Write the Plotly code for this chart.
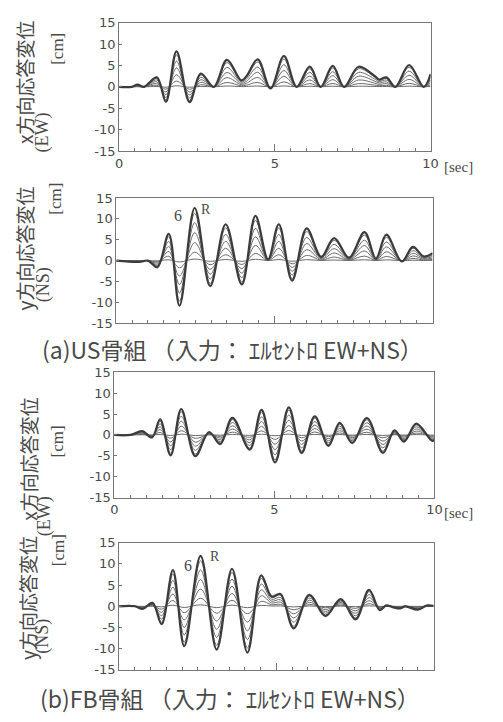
import plotly.graph_objects as go

# ---------------- data ----------------
# Roof (R) response displacement extrema [cm] vs time [sec]
t_us_x = [0, 0.4, 0.59, 0.8, 1.21, 1.5, 1.84, 2.26, 2.62, 3.04, 3.46, 3.92, 4.08, 4.45, 4.86,
          5.29, 5.7, 6.12, 6.47, 6.86, 7.22, 7.69, 8.19, 8.35, 8.58, 8.87, 9.31, 9.78, 10.0]
r_us_x = [0, 0, 0.5, 0, 2.2, -3.5, 8.3, -3.6, 3.1, 0, 6.3, 1.5, 2.4, 6.4, -0.4,
          7.2, 0, 4.7, 0, 4.9, 0, 4.7, 2.6, 1.7, 2.2, 0, 5.1, 0, 3.0]

t_us_y = [0, 0.73, 1.0, 1.3, 1.66, 2.0, 2.48, 2.97, 3.46, 3.97, 4.4, 4.8, 5.14, 5.56,
          6.02, 6.48, 6.89, 7.36, 7.85, 8.21, 8.54, 9.03, 9.38, 9.72, 10.0]
r_us_y = [0, -0.3, 0, -1.6, 6.4, -10.8, 12.6, -6.1, 8.7, -5.7, 10.7, 0.3, 8.7, -4.8,
          7.7, 0.9, 5.4, 0.7, 6.8, 0.5, 6.2, -0.2, 3.3, 1.0, 1.8]

t_fb_x = [0, 0.5, 0.87, 1.18, 1.43, 1.76, 2.09, 2.53, 2.96, 3.31, 3.69, 4.23, 4.6, 5.02,
          5.45, 5.85, 6.26, 6.69, 7.04, 7.43, 7.89, 8.39, 8.75, 9.05, 9.43, 9.92, 10.0]
r_fb_x = [0, 0, 0.9, -0.6, 3.7, -4.9, 6.2, -5.1, 0.7, -2.2, 4.1, -3.5, 6.0, -6.6,
          6.6, -4.3, 4.45, -2.6, 2.9, -1.95, 4.05, -4.3, 1.1, -1.6, 2.7, -1.4, -1.2]

t_fb_y = [0, 0.5, 0.75, 1.06, 1.35, 1.71, 2.07, 2.59, 3.1, 3.59, 4.08, 4.52, 4.85, 5.13,
          5.55, 6.05, 6.56, 7.05, 7.52, 7.95, 8.29, 8.5, 8.7, 8.95, 9.1, 9.5, 9.8, 10.0]
r_fb_y = [0, 0, -0.6, 0.8, -4.2, 8.5, -9.4, 11.9, -10.2, 8.85, -10.9, 7.3, 2.3, 2.9,
          -5.2, 2.7, -2.3, 1.7, -3.1, 3.85, -0.9, 0.2, -0.2, -0.5, 0, -0.8, 0.2, 0.1]

# relative amplitude of each floor curve
floor_labels = ["1", "2", "3", "4", "5", "6", "R"]
floor_ratio = [0.03, 0.16, 0.34, 0.53, 0.72, 0.9, 1.0]

y_ticks = [-15, -10, -5, 0, 5, 10, 15]
y_ticktext = ["-15", "-10", "-5", "0", "5", "10", "15"]
x_ticks = [0, 5, 10]

panel_titles = ["x方向応答変位", "y方向応答変位", "x方向応答変位", "y方向応答変位"]
panel_dirs = ["(EW)", "(NS)", "(EW)", "(NS)"]
captions = ["(a)US骨組 （入力： ｴﾙｾﾝﾄﾛ EW+NS）", "(b)FB骨組 （入力： ｴﾙｾﾝﾄﾛ EW+NS）"]

# ---------------- figure ----------------
W, H = 503, 722
def px(x):
    return x / W
def py(y):
    return 1 - y / H

panels = [
    (t_us_x, r_us_x, (118, 437), (16, 147), True),
    (t_us_y, r_us_y, (115, 439), (195, 323), False),
    (t_fb_x, r_fb_x, (113, 441), (373, 501), True),
    (t_fb_y, r_fb_y, (118, 440), (547, 677), False),
]
# pixel centres of the rotated side texts: (title), (direction), ([cm])
side_pos = [
    ((21, 77), (39, 128), (54, 43)),
    ((21, 246), (40, 284), (53, 196)),
    ((25, 462), (41, 520), (55, 444)),
    ((24, 603), (40, 643), (56, 555)),
]
label6R = [None, ((178, 213), (207, 207)), None, ((188, 570), (216, 561))]

fig = go.Figure()
layout = dict(
    width=W, height=H, margin=dict(l=0, r=0, t=0, b=0),
    paper_bgcolor="white", plot_bgcolor="white", showlegend=False,
    font=dict(family="DejaVu Sans", color="#555"),
)
annotations = []
TXT = "#4a4a4a"
JP = "Noto Sans CJK JP"

def ann(x, y, text, size, family, angle=0):
    annotations.append(dict(xref="paper", yref="paper", x=px(x), y=py(y), text=text,
                            textangle=angle, showarrow=False, xanchor="center",
                            yanchor="middle", font=dict(size=size, color=TXT, family=family)))

for i, (tt, rr, (x0, x1), (y0, y1), show_x) in enumerate(panels):
    k = "" if i == 0 else str(i + 1)
    for lab, ratio in zip(floor_labels, floor_ratio):
        is_r = lab == "R"
        fig.add_trace(go.Scatter(
            x=tt, y=[v * ratio for v in rr], mode="lines",
            line=dict(color="#3c3c3c" if is_r else "#6a6a6a",
                      width=2.2 if is_r else 1.0, shape="spline", smoothing=1.0),
            xaxis="x" + k, yaxis="y" + k, hoverinfo="skip",
        ))
    layout["xaxis" + k] = dict(
        domain=[px(x0), px(x1)], anchor="y" + k, range=[0, 10],
        showline=True, mirror=True, linecolor="#777", linewidth=1,
        showgrid=False, zeroline=False,
        tickvals=x_ticks, ticks="inside", ticklen=7, tickcolor="#777",
        showticklabels=show_x, tickfont=dict(size=13, color=TXT, family="DejaVu Sans"),
        minor=dict(dtick=0.5, ticks="inside", ticklen=3, tickcolor="#777"),
    )
    layout["yaxis" + k] = dict(
        domain=[py(y1), py(y0)], anchor="x" + k, range=[-15, 15],
        showline=True, mirror=True, linecolor="#777", linewidth=1,
        showgrid=False, zeroline=False,
        tickvals=y_ticks, ticktext=y_ticktext, ticks="inside", ticklen=3, tickcolor="#777",
        tickfont=dict(size=13, color=TXT, family="DejaVu Sans"),
    )
    (tx, ty), (dx, dy), (cx, cy) = side_pos[i]
    ann(tx, ty, panel_titles[i], 19, JP, -90)
    ann(dx, dy, panel_dirs[i], 18, "Liberation Serif", -90)
    ann(cx, cy, "[cm]", 17, "Liberation Serif", -90)
    if show_x:
        ann(466, y1 + 16, "[sec]", 15, "Liberation Serif")
    else:
        (sx, sy), (rx, ry) = label6R[i]
        ann(sx, sy, "6", 16, "Liberation Serif")
        ann(rx, ry, "R", 14, "Liberation Serif")

ann(234, 349, captions[0], 23, JP)
ann(232, 706, captions[1], 23, JP)

layout["annotations"] = annotations
fig.update_layout(**layout)
fig.write_html("out.html")
